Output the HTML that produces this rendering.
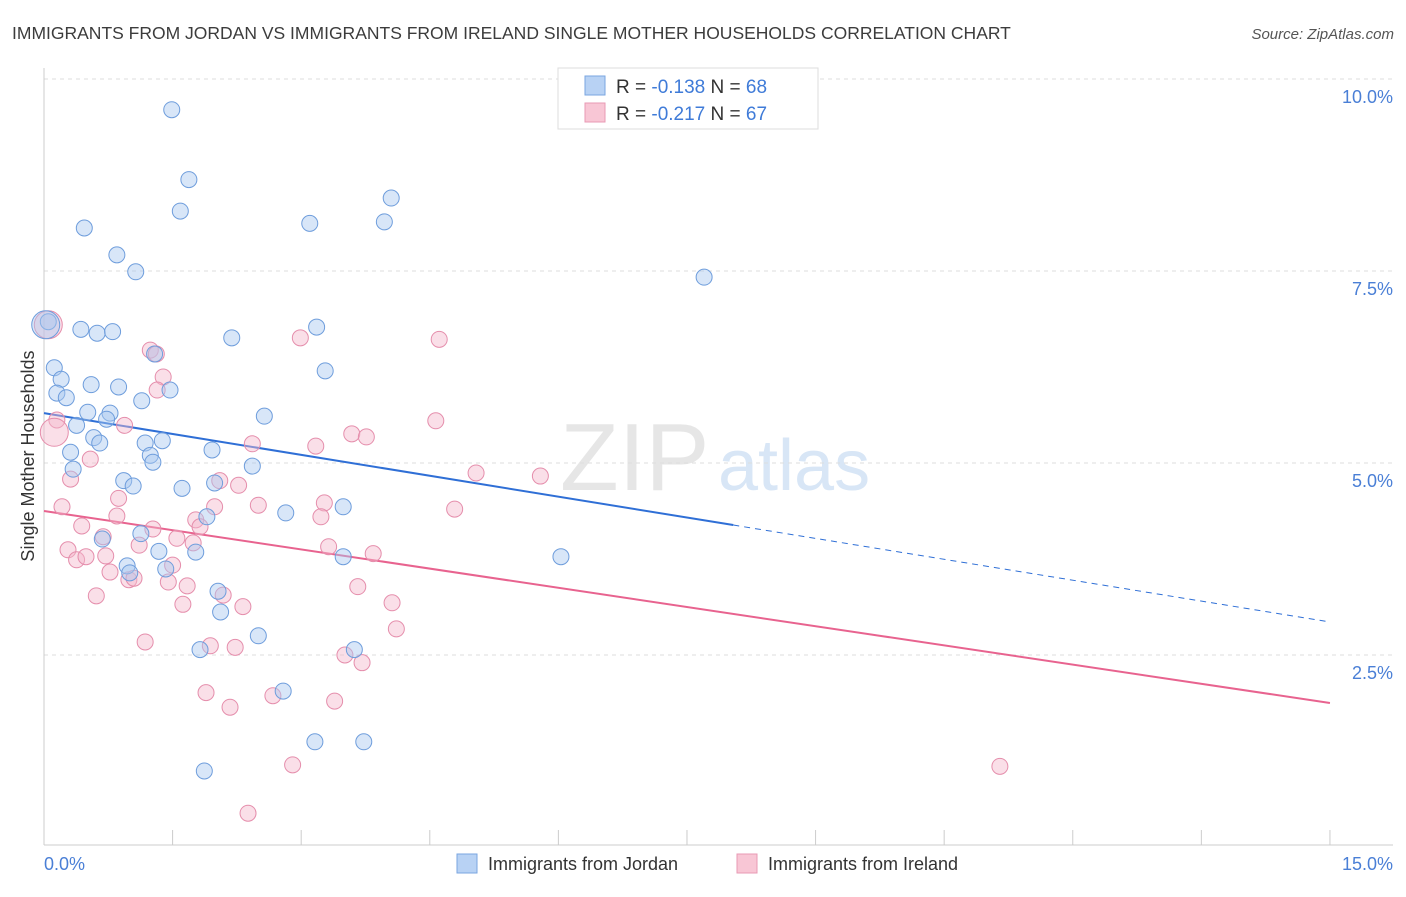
<!DOCTYPE html>
<html><head><meta charset="utf-8"><style>
body{margin:0;background:#fff;font-family:"Liberation Sans",sans-serif;}
svg text{font-family:"Liberation Sans",sans-serif;}
</style></head><body>
<svg id="chart" width="1406" height="892">
<text x="12" y="39" font-size="17.5" fill="#3c3c3c">IMMIGRANTS FROM JORDAN VS IMMIGRANTS FROM IRELAND SINGLE MOTHER HOUSEHOLDS CORRELATION CHART</text>
<text x="1394" y="39" font-size="15" fill="#555" font-style="italic" text-anchor="end">Source: ZipAtlas.com</text>
<text x="560" y="490" font-size="96" fill="#e6e6e6" font-family="Liberation Serif">ZIP</text>
<text x="718" y="490" font-size="72" fill="#d8e6f6">atlas</text>
<g id="grid"></g><g id="axes"></g><g id="lines"></g><g id="pts"></g>
<text transform="translate(34,456) rotate(-90)" font-size="18" fill="#333" text-anchor="middle">Single Mother Households</text>
<text x="44" y="870" font-size="18" fill="#4a7fd6">0.0%</text>
<text x="1393" y="870" font-size="18" fill="#4a7fd6" text-anchor="end">15.0%</text>
<g>
<rect x="558" y="68" width="260" height="61" fill="#fff" stroke="#ddd"/>
<rect x="585" y="76" width="20" height="19" fill="#b8d2f4" stroke="#7aa6e0"/>
<rect x="585" y="103" width="20" height="19" fill="#f8c6d5" stroke="#e89ab4"/>
<text x="616" y="93" font-size="19" fill="#333">R = <tspan fill="#3f7bd8">-0.138</tspan>   N = <tspan fill="#3f7bd8">68</tspan></text>
<text x="616" y="120" font-size="19" fill="#333">R = <tspan fill="#3f7bd8">-0.217</tspan>   N = <tspan fill="#3f7bd8">67</tspan></text>
</g>
<g>
<rect x="457" y="854" width="20" height="19" fill="#b8d2f4" stroke="#7aa6e0"/>
<text x="488" y="870" font-size="18" fill="#333">Immigrants from Jordan</text>
<rect x="737" y="854" width="20" height="19" fill="#f8c6d5" stroke="#e89ab4"/>
<text x="768" y="870" font-size="18" fill="#333">Immigrants from Ireland</text>
</g>
</svg>
<script>
const yTicks=[2.5,5.0,7.5,10.0];
const xTicks=[0,1.5,3,4.5,6,7.5,9,10.5,12,13.5,15];
const jordanX=[1.49,1.69,1.59,0.47,3.10,3.97,4.05,0.85,1.07,7.70,0.05,0.43,0.62,0.80,2.19,3.18,1.29,0.12,0.20,3.28,0.55,0.87,1.47,0.15,0.26,1.14,0.51,0.77,0.73,2.57,0.38,0.58,0.65,1.18,1.38,0.31,1.24,1.96,1.27,2.43,0.34,0.93,1.04,1.61,1.99,3.49,2.82,1.90,1.13,0.68,1.34,1.77,3.49,6.03,0.97,1.00,1.42,2.03,2.06,2.50,1.82,3.62,2.79,3.16,3.73,1.87,0.02];
const jordanY=[9.60,8.69,8.28,8.06,8.12,8.14,8.45,7.71,7.49,7.42,6.84,6.74,6.69,6.71,6.63,6.77,6.42,6.24,6.09,6.20,6.02,5.99,5.95,5.91,5.85,5.81,5.66,5.65,5.57,5.61,5.49,5.33,5.26,5.26,5.29,5.14,5.10,5.17,5.01,4.96,4.92,4.77,4.70,4.67,4.74,4.43,4.35,4.30,4.08,4.01,3.85,3.84,3.78,3.78,3.66,3.57,3.62,3.33,3.06,2.75,2.57,2.57,2.03,1.37,1.37,0.99,6.80];
const irelandX=[1.24,1.31,1.39,1.32,2.99,4.61,0.05,0.15,0.12,4.57,0.94,2.43,3.17,3.59,3.76,0.54,5.04,5.79,0.31,2.27,2.05,0.87,0.21,2.50,3.27,1.99,4.79,0.85,0.44,3.23,1.77,1.82,1.27,1.55,0.69,1.74,1.11,0.28,3.32,3.84,0.38,0.49,0.72,1.50,0.77,0.99,1.05,1.45,1.67,3.66,0.61,2.09,1.62,2.32,4.06,4.11,1.18,1.94,2.23,3.51,3.71,1.89,2.67,2.17,3.39,2.90,11.15,2.38];
const irelandY=[6.47,6.42,6.12,5.95,6.63,6.61,6.80,5.56,5.40,5.55,5.49,5.25,5.22,5.38,5.34,5.05,4.87,4.83,4.79,4.71,4.77,4.54,4.43,4.45,4.48,4.43,4.40,4.31,4.18,4.30,4.26,4.17,4.14,4.02,4.04,3.96,3.93,3.87,3.91,3.82,3.74,3.78,3.79,3.67,3.58,3.48,3.50,3.45,3.40,3.39,3.27,3.28,3.16,3.13,3.18,2.84,2.67,2.62,2.60,2.50,2.40,2.01,1.97,1.82,1.90,1.07,1.05,0.44];
const jordanTrend=[5.65,2.93], jordanSolidEnd=8.04;
const irelandTrend=[4.375,1.875];
const X=v=>44+v*85.73, Y=v=>847-v*76.8;
const NS='http://www.w3.org/2000/svg';
function mk(tag,attrs,parent){const e=document.createElementNS(NS,tag);for(const k in attrs)e.setAttribute(k,attrs[k]);document.getElementById(parent).appendChild(e);return e;}
yTicks.forEach(t=>{
 const l=mk('line',{x1:44,x2:1393,y1:Y(t),y2:Y(t),stroke:'#ddd','stroke-dasharray':'4,4'},'grid');
 
 
 const tx=mk('text',{x:1393,y:Y(t)+24,'font-size':18,fill:'#4a7fd6','text-anchor':'end'},'grid');
 tx.textContent=t.toFixed(1)+'%';
 
 
});
const ya=mk('line',{x1:44,x2:44,y1:68,y2:845,stroke:'#ccc'},'axes');


const xa=mk('line',{x1:44,x2:1393,y1:845,y2:845,stroke:'#ccc'},'axes');


xTicks.forEach(t=>{
 const l=mk('line',{x1:X(t),x2:X(t),y1:830,y2:845,stroke:'#ccc'},'axes');
 
 
});
function pts(xs,ys,fill,stroke,name){
 xs.forEach((x,i)=>{
  const big=(ys[i]===6.80||(name==='ireland-point'&&ys[i]===5.40));
  const c=mk('circle',{cx:X(x),cy:Y(ys[i]),r:big?14:8,fill:fill,'fill-opacity':0.45,stroke:stroke,'stroke-width':1},'pts');
  
  
 });
}
pts(irelandX,irelandY,'#f5b8cb','#e58eac','ireland-point');
pts(jordanX,jordanY,'#a9c8f0','#6e9ddc','jordan-point');
const jm=v=>jordanTrend[0]+(jordanTrend[1]-jordanTrend[0])*v/15;
const im=v=>irelandTrend[0]+(irelandTrend[1]-irelandTrend[0])*v/15;
let l=mk('line',{x1:X(0),y1:Y(jm(0)),x2:X(jordanSolidEnd),y2:Y(jm(jordanSolidEnd)),stroke:'#2f6fd6','stroke-width':2},'lines');


l=mk('line',{x1:X(jordanSolidEnd),y1:Y(jm(jordanSolidEnd)),x2:X(15),y2:Y(jm(15)),stroke:'#2f6fd6','stroke-width':1,'stroke-dasharray':'6,5'},'lines');


l=mk('line',{x1:X(0),y1:Y(im(0)),x2:X(15),y2:Y(im(15)),stroke:'#e8638f','stroke-width':2},'lines');


</script>
</body></html>
